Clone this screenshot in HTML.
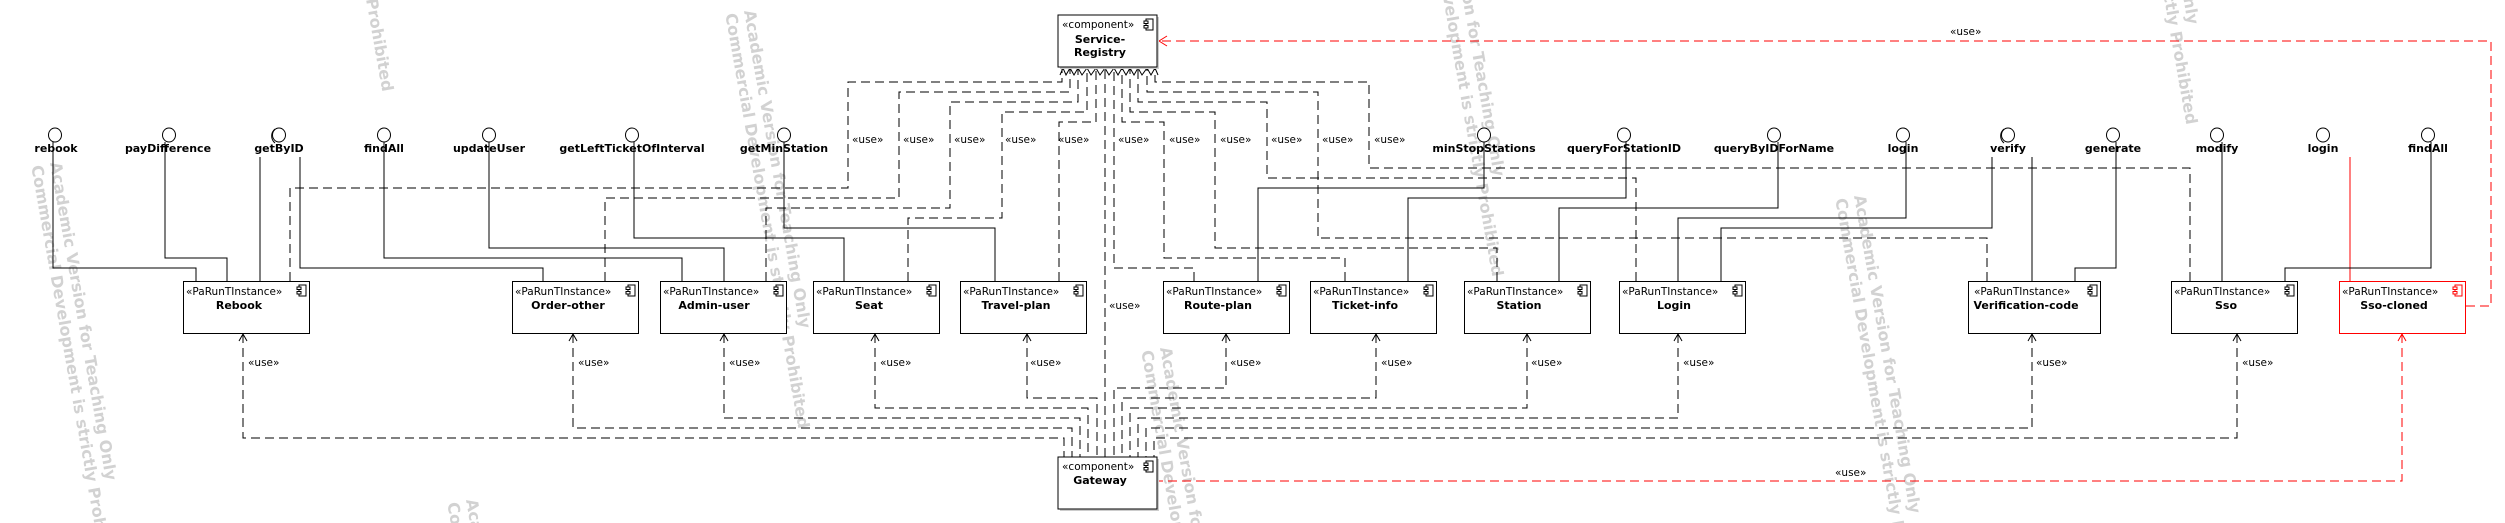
<!DOCTYPE html>
<html><head><meta charset="utf-8"><style>
html,body{margin:0;padding:0;background:#fff;width:2505px;height:523px;overflow:hidden;}
svg{display:block;overflow:hidden;}
text{font-family:"DejaVu Sans","Liberation Sans",sans-serif;}
.st{font-size:10.5px;fill:#000;}
.nm{font-size:11px;font-weight:bold;fill:#000;text-anchor:middle;}
.lb{font-size:11px;font-weight:bold;fill:#000;text-anchor:middle;}
.us{font-size:10.5px;fill:#000;}
.wm{font-size:16px;font-weight:bold;fill:#d2d2d2;}
.s{fill:none;stroke:#000;stroke-width:1;}
.d{fill:none;stroke:#000;stroke-width:1;stroke-dasharray:9,5;}
.r{fill:none;stroke:#f00;stroke-width:1;stroke-dasharray:9,5;}
</style></head><body>
<svg width="2505" height="523" viewBox="0 0 2505 523" xmlns="http://www.w3.org/2000/svg">
<!-- watermarks -->
<g class="wm">
<g transform="translate(50,163) rotate(80)"><text x="0" y="0">Academic Version for Teaching Only</text><text x="0" y="19">Commercial Development is strictly Prohibited</text></g>
<g transform="translate(744,11) rotate(80)"><text x="0" y="0">Academic Version for Teaching Only</text><text x="0" y="19">Commercial Development is strictly Prohibited</text></g>
<g transform="translate(466,500) rotate(80)"><text x="0" y="0">Academic Version for Teaching Only</text><text x="0" y="19">Commercial Development is strictly Prohibited</text></g>
<g transform="translate(1160,348) rotate(80)"><text x="0" y="0">Academic Version for Teaching Only</text><text x="0" y="19">Commercial Development is strictly Prohibited</text></g>
<g transform="translate(1438,-141) rotate(80)"><text x="0" y="0">Academic Version for Teaching Only</text><text x="0" y="19">Commercial Development is strictly Prohibited</text></g>
<g transform="translate(1854,196) rotate(80)"><text x="0" y="0">Academic Version for Teaching Only</text><text x="0" y="19">Commercial Development is strictly Prohibited</text></g>
<g transform="translate(2132,-293) rotate(80)"><text x="0" y="0">Academic Version for Teaching Only</text><text x="0" y="19">Commercial Development is strictly Prohibited</text></g>
<g transform="translate(328,-326) rotate(80)"><text x="0" y="0">Academic Version for Teaching Only</text><text x="0" y="19">Commercial Development is strictly Prohibited</text></g>
</g>

<!-- solid interface lines -->
<path class="s" d="M53,142 V268 H196 V281"/>
<path class="s" d="M165,142 V258 H227 V281"/>
<path class="s" d="M260,157 V281"/>
<path class="s" d="M300,157 V268 H543 V281"/>
<path class="s" d="M384,142 V258 H682 V281"/>
<path class="s" d="M489,142 V248 H724 V281"/>
<path class="s" d="M634,142 V238 H844 V281"/>
<path class="s" d="M784,142 V228 H995 V281"/>
<path class="s" d="M1484,142 V188 H1258 V281"/>
<path class="s" d="M1626,142 V198 H1408 V281"/>
<path class="s" d="M1778,142 V208 H1559 V281"/>
<path class="s" d="M1906,142 V218 H1678 V281"/>
<path class="s" d="M1992,157 V228 H1721 V281"/>
<path class="s" d="M2032,157 V281"/>
<path class="s" d="M2116,142 V268 H2075 V281"/>
<path class="s" d="M2222,142 V281"/>
<path d="M2350,157 V281" fill="none" stroke="#f00" stroke-width="1"/>
<path class="s" d="M2431,142 V268 H2285 V281"/>

<!-- dashed to registry -->
<path class="d" d="M290,281 V188 H848 V82 H1062 V67"/>
<path class="d" d="M605,281 V198 H899 V92 H1070 V67"/>
<path class="d" d="M766,281 V208 H950 V102 H1078 V67"/>
<path class="d" d="M908,281 V218 H1002 V112 H1087 V67"/>
<path class="d" d="M1059,281 V122 H1096 V67"/>
<path class="d" d="M1105,457 V67"/>
<path class="d" d="M1194,281 V268 H1114 V67"/>
<path class="d" d="M1345,281 V258 H1164 V122 H1122 V67"/>
<path class="d" d="M1497,281 V248 H1215 V112 H1130 V67"/>
<path class="d" d="M1636,281 V178 H1267 V102 H1138 V67"/>
<path class="d" d="M1987,281 V238 H1318 V92 H1147 V67"/>
<path class="d" d="M2190,281 V168 H1369 V82 H1155 V67"/>

<!-- dashed from gateway -->
<path class="d" d="M243,334 V438 H1064 V457"/>
<path class="d" d="M573,334 V428 H1072 V457"/>
<path class="d" d="M724,334 V418 H1080 V457"/>
<path class="d" d="M875,334 V408 H1088 V457"/>
<path class="d" d="M1027,334 V398 H1097 V457"/>
<path class="d" d="M1226,334 V388 H1114 V457"/>
<path class="d" d="M1376,334 V398 H1122 V457"/>
<path class="d" d="M1527,334 V408 H1130 V457"/>
<path class="d" d="M1678,334 V418 H1138 V457"/>
<path class="d" d="M2032,334 V428 H1146 V457"/>
<path class="d" d="M2237,334 V438 H1154 V457"/>
<path class="r" d="M2402,334 V481 H1159"/>
<path class="r" d="M2466,306 H2491 V41 H1159"/>
<path d="M1167,36 L1159,41 L1167,46" fill="none" stroke="#f00"/>

<!-- arrowheads at box bottoms -->
<g fill="none" stroke="#000">
<path d="M239,341 L243,334 L247,341"/><path d="M569,341 L573,334 L577,341"/><path d="M720,341 L724,334 L728,341"/>
<path d="M871,341 L875,334 L879,341"/><path d="M1023,341 L1027,334 L1031,341"/><path d="M1222,341 L1226,334 L1230,341"/>
<path d="M1372,341 L1376,334 L1380,341"/><path d="M1523,341 L1527,334 L1531,341"/><path d="M1674,341 L1678,334 L1682,341"/>
<path d="M2028,341 L2032,334 L2036,341"/><path d="M2233,341 L2237,334 L2241,341"/>
</g>
<path d="M2398,341 L2402,334 L2406,341" fill="none" stroke="#f00"/>
<polyline fill="none" stroke="#000" points="1060,75 1063,68 1066,75 1070,68 1074,75 1078,68 1082,75 1087,68 1091,75 1096,68 1100,75 1105,68 1109,75 1114,68 1118,75 1122,68 1126,75 1130,68 1134,75 1138,68 1142,75 1147,68 1151,75 1155,68 1158,75"/>

<!-- interfaces -->
<g fill="#fff" stroke="#000">
<ellipse cx="55" cy="135" rx="6.5" ry="7"/><ellipse cx="169" cy="135" rx="6.5" ry="7"/><ellipse cx="279" cy="135" rx="6.5" ry="7"/>
<ellipse cx="384" cy="135" rx="6.5" ry="7"/><ellipse cx="489" cy="135" rx="6.5" ry="7"/><ellipse cx="632" cy="135" rx="6.5" ry="7"/>
<ellipse cx="784" cy="135" rx="6.5" ry="7"/><ellipse cx="1484" cy="135" rx="6.5" ry="7"/><ellipse cx="1624" cy="135" rx="6.5" ry="7"/>
<ellipse cx="1774" cy="135" rx="6.5" ry="7"/><ellipse cx="1903" cy="135" rx="6.5" ry="7"/><ellipse cx="2008" cy="135" rx="6.5" ry="7"/>
<ellipse cx="2113" cy="135" rx="6.5" ry="7"/><ellipse cx="2217" cy="135" rx="6.5" ry="7"/><ellipse cx="2323" cy="135" rx="6.5" ry="7"/>
<ellipse cx="2428" cy="135" rx="6.5" ry="7"/>
</g>
<path d="M275,129 A9,9 0 0 0 275,143" fill="none" stroke="#000"/>
<path d="M2004,129 A9,9 0 0 0 2004,143" fill="none" stroke="#000"/>
<g class="lb">
<text x="56" y="152">rebook</text><text x="168" y="152">payDifference</text><text x="279" y="152">getByID</text>
<text x="384" y="152">findAll</text><text x="489" y="152">updateUser</text><text x="632" y="152">getLeftTicketOfInterval</text>
<text x="784" y="152">getMinStation</text><text x="1484" y="152">minStopStations</text><text x="1624" y="152">queryForStationID</text>
<text x="1774" y="152">queryByIDForName</text><text x="1903" y="152">login</text><text x="2008" y="152">verify</text>
<text x="2113" y="152">generate</text><text x="2217" y="152">modify</text><text x="2323" y="152">login</text><text x="2428" y="152">findAll</text>
</g>

<!-- component boxes -->
<defs>
<g id="ic"><rect x="2" y="0" width="7" height="11" fill="#fff"/><rect x="0" y="2" width="4" height="2.5" fill="#fff"/><rect x="0" y="6.5" width="4" height="2.5" fill="#fff"/></g>
</defs>
<g stroke="#000" stroke-width="1">
<rect x="1060" y="17" width="99" height="52" fill="#ccc" stroke="none"/>
<rect x="1058" y="15" width="99" height="52" fill="#fff"/>
<rect x="1060" y="459" width="99" height="52" fill="#ccc" stroke="none"/>
<rect x="1058" y="457" width="99" height="52" fill="#fff"/>
<rect x="183.5" y="281.5" width="126" height="52" fill="#fff"/>
<rect x="512.5" y="281.5" width="126" height="52" fill="#fff"/>
<rect x="660.5" y="281.5" width="126" height="52" fill="#fff"/>
<rect x="813.5" y="281.5" width="126" height="52" fill="#fff"/>
<rect x="960.5" y="281.5" width="126" height="52" fill="#fff"/>
<rect x="1163.5" y="281.5" width="126" height="52" fill="#fff"/>
<rect x="1310.5" y="281.5" width="126" height="52" fill="#fff"/>
<rect x="1464.5" y="281.5" width="126" height="52" fill="#fff"/>
<rect x="1619.5" y="281.5" width="126" height="52" fill="#fff"/>
<rect x="1968.5" y="281.5" width="132" height="52" fill="#fff"/>
<rect x="2171.5" y="281.5" width="126" height="52" fill="#fff"/>
<rect x="2339.5" y="281.5" width="126" height="52" fill="#fff" stroke="#f00"/>
<use href="#ic" x="1144" y="19"/><use href="#ic" x="1144" y="461"/>
<use href="#ic" x="297" y="285"/><use href="#ic" x="626" y="285"/><use href="#ic" x="774" y="285"/>
<use href="#ic" x="927" y="285"/><use href="#ic" x="1074" y="285"/><use href="#ic" x="1277" y="285"/>
<use href="#ic" x="1424" y="285"/><use href="#ic" x="1578" y="285"/><use href="#ic" x="1733" y="285"/>
<use href="#ic" x="2088" y="285"/><use href="#ic" x="2285" y="285"/>
<use href="#ic" x="2453" y="285" stroke="#f00"/>
</g>
<g class="st">
<text x="1062" y="28">«component»</text><text x="1062" y="470">«component»</text>
<text x="186" y="295">«PaRunTInstance»</text><text x="515" y="295">«PaRunTInstance»</text><text x="663" y="295">«PaRunTInstance»</text>
<text x="816" y="295">«PaRunTInstance»</text><text x="963" y="295">«PaRunTInstance»</text><text x="1166" y="295">«PaRunTInstance»</text>
<text x="1313" y="295">«PaRunTInstance»</text><text x="1467" y="295">«PaRunTInstance»</text><text x="1622" y="295">«PaRunTInstance»</text>
<text x="1974" y="295">«PaRunTInstance»</text><text x="2174" y="295">«PaRunTInstance»</text><text x="2342" y="295">«PaRunTInstance»</text>
</g>
<g class="nm">
<text x="1100" y="43">Service-</text><text x="1100" y="56">Registry</text><text x="1100" y="484">Gateway</text>
<text x="239" y="309">Rebook</text><text x="568" y="309">Order-other</text><text x="714" y="309">Admin-user</text>
<text x="869" y="309">Seat</text><text x="1016" y="309">Travel-plan</text><text x="1218" y="309">Route-plan</text>
<text x="1365" y="309">Ticket-info</text><text x="1519" y="309">Station</text><text x="1674" y="309">Login</text>
<text x="2026" y="309">Verification-code</text><text x="2226" y="309">Sso</text><text x="2394" y="309">Sso-cloned</text>
</g>

<!-- use labels -->
<g class="us">
<text x="852" y="143">«use»</text><text x="903" y="143">«use»</text><text x="954" y="143">«use»</text>
<text x="1005" y="143">«use»</text><text x="1058" y="143">«use»</text><text x="1118" y="143">«use»</text>
<text x="1169" y="143">«use»</text><text x="1220" y="143">«use»</text><text x="1271" y="143">«use»</text>
<text x="1322" y="143">«use»</text><text x="1374" y="143">«use»</text>
<text x="1109" y="309">«use»</text>
<text x="248" y="366">«use»</text><text x="578" y="366">«use»</text><text x="729" y="366">«use»</text>
<text x="880" y="366">«use»</text><text x="1030" y="366">«use»</text><text x="1230" y="366">«use»</text>
<text x="1381" y="366">«use»</text><text x="1531" y="366">«use»</text><text x="1683" y="366">«use»</text>
<text x="2036" y="366">«use»</text><text x="2242" y="366">«use»</text>
<text x="1950" y="35">«use»</text><text x="1835" y="476">«use»</text>
</g>
</svg>
</body></html>
